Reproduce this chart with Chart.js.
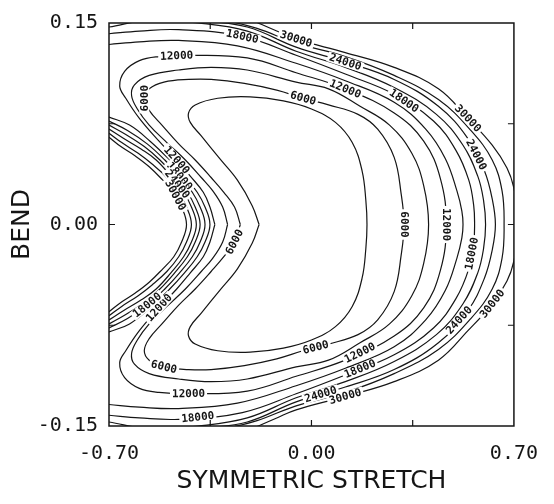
<!DOCTYPE html>
<html>
<head>
<meta charset="utf-8">
<script src="https://cdn.jsdelivr.net/npm/chart.js@4.4.1/dist/chart.umd.min.js"></script>
<style>
  html, body { margin: 0; padding: 0; background: #fff; }
  #wrap { width: 554px; height: 504px; }
</style>
</head>
<body>
<div id="wrap"><canvas id="contourChart" width="554" height="504"></canvas></div>
<script>
// Contour levels and axis ticks
const levels = [3000, 6000, 9000, 12000, 15000, 18000, 21000, 24000, 27000, 30000];
const xTickValues = [-0.7, 0, 0.7];
const yTickValues = [-0.15, 0, 0.15];
const xMinorTicks = [-0.35, 0, 0.35];
const yMinorTicks = [-0.075, 0, 0.075];

// Closed valley contours [stretch, bend]
const c3000 = [[-0.181,0],[-0.205,0.014],[-0.256,0.033],[-0.317,0.049],[-0.381,0.066],[-0.419,0.076],[-0.425,0.083],[-0.402,0.089],[-0.324,0.094],[-0.212,0.095],[-0.097,0.092],[0.000,0.086],[0.083,0.076],[0.141,0.061],[0.175,0.040],[0.188,0.018],[0.192,0],
  [0.188,-0.018],[0.175,-0.040],[0.141,-0.061],[0.083,-0.076],[0.000,-0.086],[-0.097,-0.092],[-0.212,-0.095],[-0.324,-0.094],[-0.402,-0.089],[-0.425,-0.083],[-0.419,-0.076],[-0.381,-0.066],[-0.317,-0.049],[-0.256,-0.033],[-0.205,-0.014],[-0.181,0]];

const c6000 = [[-0.246,0],[-0.266,0.013],[-0.303,0.024],[-0.347,0.035],[-0.402,0.048],[-0.459,0.060],[-0.517,0.074],[-0.561,0.085],[-0.578,0.094],[-0.561,0.101],[-0.510,0.106],[-0.425,0.108],[-0.347,0.108],[-0.232,0.105],[-0.120,0.100],[-0.029,0.094],[0.059,0.089],[0.161,0.082],[0.229,0.071],[0.286,0.050],[0.310,0.023],[0.320,0],
  [0.310,-0.023],[0.286,-0.050],[0.229,-0.071],[0.161,-0.082],[0.059,-0.089],[-0.029,-0.094],[-0.120,-0.100],[-0.232,-0.105],[-0.347,-0.108],[-0.425,-0.108],[-0.510,-0.106],[-0.561,-0.101],[-0.578,-0.094],[-0.561,-0.085],[-0.517,-0.074],[-0.459,-0.060],[-0.402,-0.048],[-0.347,-0.035],[-0.303,-0.024],[-0.266,-0.013],[-0.246,0]];

const c9000 = [[-0.290,0],[-0.307,0.013],[-0.341,0.025],[-0.381,0.035],[-0.436,0.048],[-0.500,0.061],[-0.561,0.074],[-0.602,0.086],[-0.622,0.096],[-0.612,0.104],[-0.561,0.111],[-0.459,0.115],[-0.347,0.117],[-0.222,0.115],[-0.053,0.106],[0.059,0.101],[0.168,0.088],[0.270,0.074],[0.347,0.053],[0.388,0.029],[0.405,0],
  [0.388,-0.029],[0.347,-0.053],[0.270,-0.074],[0.168,-0.088],[0.059,-0.101],[-0.053,-0.106],[-0.222,-0.115],[-0.347,-0.117],[-0.459,-0.115],[-0.561,-0.111],[-0.612,-0.104],[-0.622,-0.096],[-0.602,-0.086],[-0.561,-0.074],[-0.500,-0.061],[-0.436,-0.048],[-0.381,-0.035],[-0.341,-0.025],[-0.307,-0.013],[-0.290,0]];

const c12000 = [[-0.334,0],[-0.351,0.013],[-0.374,0.024],[-0.419,0.036],[-0.466,0.048],[-0.527,0.062],[-0.595,0.079],[-0.642,0.094],[-0.663,0.103],[-0.646,0.114],[-0.595,0.122],[-0.527,0.125],[-0.425,0.126],[-0.222,0.124],[-0.053,0.113],[0.117,0.101],[0.286,0.083],[0.388,0.062],[0.446,0.034],[0.466,0],
  [0.446,-0.034],[0.388,-0.062],[0.286,-0.083],[0.117,-0.101],[-0.053,-0.113],[-0.222,-0.124],[-0.425,-0.126],[-0.527,-0.125],[-0.595,-0.122],[-0.646,-0.114],[-0.663,-0.103],[-0.642,-0.094],[-0.595,-0.079],[-0.527,-0.062],[-0.466,-0.048],[-0.419,-0.036],[-0.374,-0.024],[-0.351,-0.013],[-0.334,0]];

// Outer branches (wrap round the right side)
const o15000 = [[-0.700,0.134],[-0.595,0.136],[-0.459,0.137],[-0.256,0.133],[-0.053,0.120],[0.117,0.107],[0.286,0.091],[0.395,0.071],[0.463,0.049],[0.503,0.025],[0.520,0.010],[0.524,0],
  [0.520,-0.010],[0.503,-0.025],[0.463,-0.049],[0.395,-0.071],[0.286,-0.091],[0.117,-0.107],[-0.053,-0.120],[-0.256,-0.133],[-0.459,-0.137],[-0.595,-0.136],[-0.700,-0.134]];

const o18000 = [[-0.700,0.142],[-0.595,0.144],[-0.459,0.145],[-0.239,0.140],[-0.053,0.126],[0.117,0.112],[0.286,0.097],[0.422,0.077],[0.500,0.055],[0.544,0.033],[0.561,0.014],[0.564,0],
  [0.561,-0.014],[0.544,-0.033],[0.500,-0.055],[0.422,-0.077],[0.286,-0.097],[0.117,-0.112],[-0.053,-0.126],[-0.239,-0.140],[-0.459,-0.145],[-0.595,-0.144],[-0.700,-0.142]];

const o21000 = [[-0.700,0.147],[-0.561,0.152],[-0.392,0.150],[-0.222,0.144],[-0.053,0.129],[0.117,0.117],[0.286,0.102],[0.432,0.082],[0.524,0.059],[0.575,0.036],[0.595,0.018],[0.602,0],
  [0.595,-0.018],[0.575,-0.036],[0.524,-0.059],[0.432,-0.082],[0.286,-0.102],[0.117,-0.117],[-0.053,-0.129],[-0.222,-0.144],[-0.392,-0.150],[-0.561,-0.152],[-0.700,-0.147]];

const o24000 = [[-0.392,0.152],[-0.222,0.147],[-0.053,0.132],[0.117,0.121],[0.286,0.108],[0.439,0.088],[0.541,0.064],[0.598,0.040],[0.625,0.019],[0.636,0],
  [0.625,-0.019],[0.598,-0.040],[0.541,-0.064],[0.439,-0.088],[0.286,-0.108],[0.117,-0.121],[-0.053,-0.132],[-0.222,-0.147],[-0.392,-0.152]];

const o27000 = [[-0.297,0.152],[-0.188,0.146],[-0.053,0.135],[0.117,0.125],[0.286,0.111],[0.439,0.093],[0.551,0.070],[0.625,0.048],[0.659,0.025],[0.666,0],
  [0.659,-0.025],[0.625,-0.048],[0.551,-0.070],[0.439,-0.093],[0.286,-0.111],[0.117,-0.125],[-0.053,-0.135],[-0.188,-0.146],[-0.297,-0.152]];

const o30000 = [[-0.205,0.152],[-0.120,0.144],[-0.053,0.138],[0.117,0.128],[0.286,0.117],[0.439,0.101],[0.541,0.079],[0.625,0.059],[0.676,0.042],[0.700,0.027],[0.717,0],
  [0.700,-0.027],[0.676,-0.042],[0.625,-0.059],[0.541,-0.079],[0.439,-0.101],[0.286,-0.117],[0.117,-0.128],[-0.053,-0.138],[-0.120,-0.144],[-0.205,-0.152]];

// Repulsive wall branches on the left
const w15000 = [[-0.700,0.080],[-0.629,0.074],[-0.558,0.062],[-0.490,0.048],[-0.439,0.036],[-0.395,0.024],[-0.368,0.013],[-0.351,0],
  [-0.368,-0.013],[-0.395,-0.024],[-0.439,-0.036],[-0.490,-0.048],[-0.558,-0.062],[-0.629,-0.074],[-0.700,-0.080]];
const w18000 = [[-0.700,0.077],[-0.636,0.070],[-0.568,0.060],[-0.507,0.048],[-0.456,0.036],[-0.412,0.024],[-0.385,0.013],[-0.368,0],
  [-0.385,-0.013],[-0.412,-0.024],[-0.456,-0.036],[-0.507,-0.048],[-0.568,-0.060],[-0.636,-0.070],[-0.700,-0.077]];
const w21000 = [[-0.700,0.074],[-0.642,0.067],[-0.578,0.058],[-0.524,0.048],[-0.473,0.036],[-0.429,0.024],[-0.402,0.013],[-0.385,0],
  [-0.402,-0.013],[-0.429,-0.024],[-0.473,-0.036],[-0.524,-0.048],[-0.578,-0.058],[-0.642,-0.067],[-0.700,-0.074]];
const w24000 = [[-0.700,0.071],[-0.649,0.064],[-0.588,0.056],[-0.537,0.048],[-0.486,0.036],[-0.442,0.024],[-0.415,0.013],[-0.398,0],
  [-0.415,-0.013],[-0.442,-0.024],[-0.486,-0.036],[-0.537,-0.048],[-0.588,-0.056],[-0.649,-0.064],[-0.700,-0.071]];
const w27000 = [[-0.700,0.068],[-0.656,0.061],[-0.599,0.053],[-0.551,0.045],[-0.500,0.035],[-0.459,0.024],[-0.432,0.013],[-0.415,0],
  [-0.432,-0.013],[-0.459,-0.024],[-0.500,-0.035],[-0.551,-0.045],[-0.599,-0.053],[-0.656,-0.061],[-0.700,-0.068]];
const w30000 = [[-0.700,0.065],[-0.659,0.058],[-0.609,0.051],[-0.561,0.043],[-0.514,0.033],[-0.476,0.024],[-0.449,0.013],[-0.432,0],
  [-0.449,-0.013],[-0.476,-0.024],[-0.514,-0.033],[-0.561,-0.043],[-0.609,-0.051],[-0.659,-0.058],[-0.700,-0.065]];

const INK = '#151515';

function contour(level, points, labelAt) {
  return {
    level: level,
    labelAt: labelAt || [],
    data: points.map(p => ({ x: p[0], y: p[1] })),
    borderColor: INK,
    borderWidth: 1.2,
    pointRadius: 0,
    tension: 0.4,
    fill: false
  };
}

// labelAt = positions along each line (point index, may be fractional)
const datasets = [
  contour(levels[0], c3000),
  contour(levels[1], c6000, [8, 15, 21, 26.5, 32, 41]),
  contour(levels[2], c9000),
  contour(levels[3], c12000, [4, 11.6, 15, 19, 22.7, 26, 33]),
  contour(levels[4], o15000),
  contour(levels[4], w15000),
  contour(levels[5], o18000, [3, 6.25, 12.4, 16.7, 19.7]),
  contour(levels[5], w18000, [4, 12]),
  contour(levels[6], o21000),
  contour(levels[6], w21000),
  contour(levels[7], o24000, [3, 6.5, 12.3, 15.5]),
  contour(levels[7], w24000, [4.5]),
  contour(levels[8], o27000),
  contour(levels[8], w27000),
  contour(levels[9], o30000, [2, 6, 13, 17]),
  contour(levels[9], w30000, [5.2])
];

// Inline labels along the contour lines
const contourLabels = {
  id: 'contourLabels',
  afterDatasetsDraw(chart) {
    const { ctx, scales: { x, y } } = chart;
    ctx.save();
    ctx.font = 'bold 11px "DejaVu Sans Mono"';
    ctx.textAlign = 'center';
    ctx.textBaseline = 'middle';
    chart.data.datasets.forEach(ds => {
      const pts = ds.data;
      ds.labelAt.forEach(t => {
        const i = Math.min(Math.floor(t), pts.length - 2);
        const f = t - i;
        const px = x.getPixelForValue(pts[i].x + (pts[i + 1].x - pts[i].x) * f);
        const py = y.getPixelForValue(pts[i].y + (pts[i + 1].y - pts[i].y) * f);
        const a = pts[f > 0 ? i : Math.max(i - 1, 0)];
        const b = pts[i + 1];
        let ang = Math.atan2(y.getPixelForValue(b.y) - y.getPixelForValue(a.y),
                             x.getPixelForValue(b.x) - x.getPixelForValue(a.x));
        if (ang > Math.PI / 2) ang -= Math.PI;
        if (ang < -Math.PI / 2) ang += Math.PI;
        const text = String(ds.level);
        const w = ctx.measureText(text).width;
        ctx.save();
        ctx.translate(px, py);
        ctx.rotate(ang);
        ctx.fillStyle = '#fff';
        ctx.fillRect(-w / 2 - 2, -5, w + 4, 10);
        ctx.fillStyle = INK;
        ctx.fillText(text, 0, 0.5);
        ctx.restore();
      });
    });
    ctx.restore();
  }
};

// Frame and inward tick marks
const frameTicks = {
  id: 'frameTicks',
  afterDraw(chart) {
    const { ctx, chartArea: { left, right, top, bottom }, scales: { x, y } } = chart;
    ctx.save();
    ctx.strokeStyle = INK;
    ctx.lineWidth = 1.5;
    ctx.strokeRect(left, top, right - left, bottom - top);
    ctx.lineWidth = 1.2;
    ctx.beginPath();
    xMinorTicks.forEach(v => {
      const px = x.getPixelForValue(v);
      ctx.moveTo(px, bottom); ctx.lineTo(px, bottom - 6);
      ctx.moveTo(px, top); ctx.lineTo(px, top + 6);
    });
    yMinorTicks.forEach(v => {
      const py = y.getPixelForValue(v);
      ctx.moveTo(left, py); ctx.lineTo(left + 6, py);
      ctx.moveTo(right, py); ctx.lineTo(right - 6, py);
    });
    ctx.stroke();
    ctx.restore();
  }
};

const tickFont = { family: 'DejaVu Sans Mono', size: 20 };
const titleFont = { family: 'DejaVu Sans', size: 25 };

new Chart(document.getElementById('contourChart'), {
  type: 'line',
  data: { datasets: datasets },
  options: {
    responsive: false,
    animation: false,
    devicePixelRatio: 1,
    layout: { padding: { left: 0, top: 22, right: 32, bottom: 0 } },
    plugins: { legend: { display: false }, tooltip: { enabled: false } },
    scales: {
      x: {
        type: 'linear',
        min: -0.7,
        max: 0.7,
        afterBuildTicks: s => { s.ticks = xTickValues.map(v => ({ value: v })); },
        afterFit: s => { s.height = 78; },
        grid: { display: false, drawTicks: false },
        border: { display: false },
        ticks: { padding: 16, color: INK, font: tickFont, maxRotation: 0, autoSkip: false,
                 callback: v => v.toFixed(2) },
        title: { display: true, text: 'SYMMETRIC STRETCH', color: INK, font: titleFont,
                 padding: { top: 0, bottom: 8 } }
      },
      y: {
        type: 'linear',
        min: -0.15,
        max: 0.15,
        afterBuildTicks: s => { s.ticks = yTickValues.map(v => ({ value: v })); },
        afterFit: s => { s.width = 109; },
        grid: { display: false, drawTicks: false },
        border: { display: false },
        ticks: { padding: 11, color: INK, font: tickFont, autoSkip: false,
                 callback: v => v.toFixed(2) },
        title: { display: true, text: 'BEND', color: INK, font: titleFont,
                 padding: { top: 7, bottom: 0 } }
      }
    }
  },
  plugins: [contourLabels, frameTicks]
});
</script>
</body>
</html>
